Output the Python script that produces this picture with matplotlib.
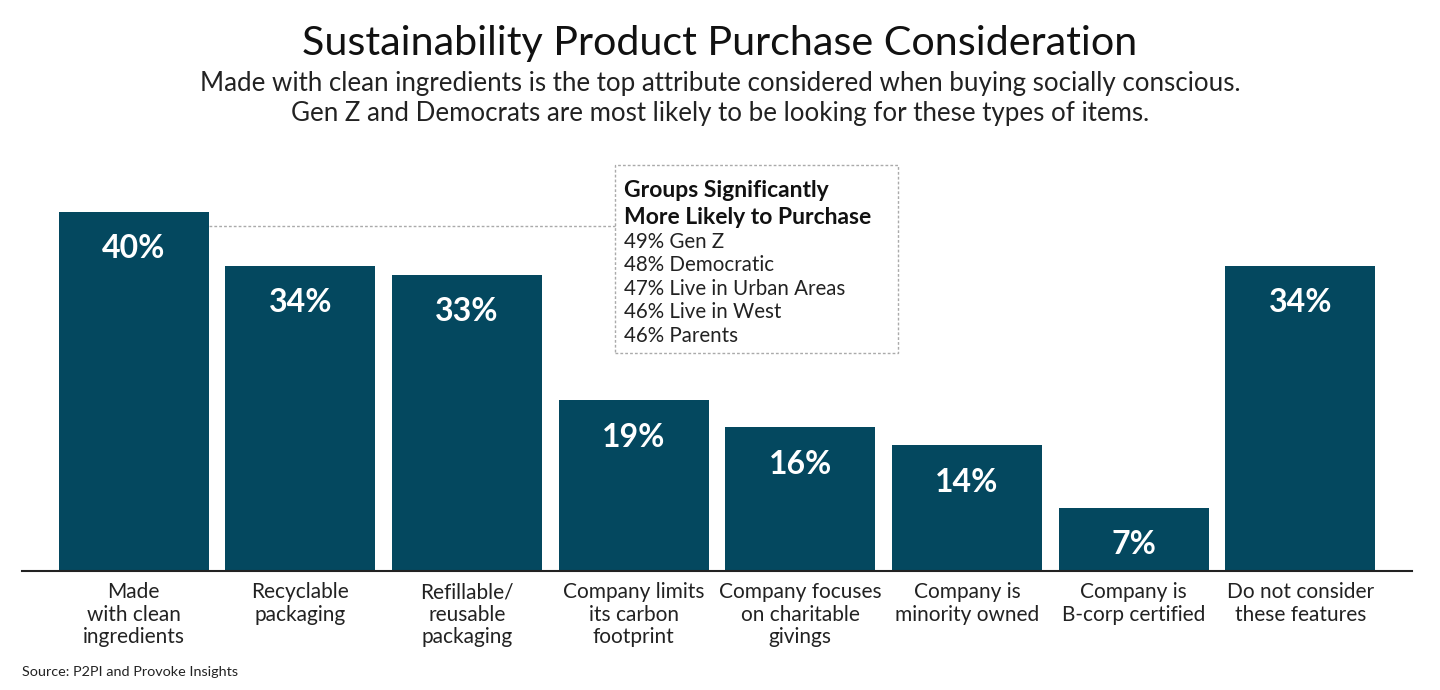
import matplotlib
matplotlib.use("Agg")
import matplotlib.pyplot as plt
from matplotlib.patches import Rectangle

plt.rcParams['font.family'] = ['Lato', 'DejaVu Sans']

categories = ["Made\nwith clean\ningredients", "Recyclable\npackaging", "Refillable/\nreusable\npackaging",
              "Company limits\nits carbon\nfootprint", "Company focuses\non charitable\ngivings",
              "Company is\nminority owned", "Company is\nB-corp certified", "Do not consider\nthese features"]
values = [40, 34, 33, 19, 16, 14, 7, 34]
value_labels = ["40%", "34%", "33%", "19%", "16%", "14%", "7%", "34%"]
box_title = ["Groups Significantly", "More Likely to Purchase"]
box_lines = ["49% Gen Z", "48% Democratic", "47% Live in Urban Areas", "46% Live in West", "46% Parents"]

bar_color = "#04485F"

fig = plt.figure(figsize=(14.4, 6.9), dpi=100)
ax = fig.add_axes([22/1440, 119/690, 1390/1440, 448.75/690])
x = list(range(len(values)))
bars = ax.bar(x, values, width=0.9, color=bar_color, zorder=2)
ax.set_xlim(-0.67, 7.67)
ax.set_ylim(0, 50)
for s in ["top", "right", "left"]:
    ax.spines[s].set_visible(False)
ax.spines["bottom"].set_color("#222222")
ax.spines["bottom"].set_linewidth(1.5)
ax.set_yticks([])
ax.set_xticks(x)
ax.set_xticklabels(categories, fontsize=15, color="#222222", linespacing=1.16)
ax.tick_params(axis='x', length=0, pad=8)

for xi, v, lab in zip(x, values, value_labels):
    ax.annotate(lab, (xi, v), xytext=(0, -26.5), textcoords="offset points",
                ha="center", va="center", color="white", fontsize=23, fontweight="bold")

# connector and annotation box
ax.plot([0.45, 2.889], [38.4, 38.4], ls=(0, (2, 1.5)), color="#aaaaaa", lw=1, clip_on=False, zorder=1)
ax.add_patch(Rectangle((2.889, 24.3), 4.587 - 2.889, 45.2 - 24.3, fill=False,
                       ls=(0, (2, 1.5)), ec="#aaaaaa", lw=1, clip_on=False))
ty = [42.45, 39.44]
for t, yy in zip(box_title, ty):
    ax.text(2.943, yy, t, fontsize=16.5, fontweight="bold", color="#111111", va="center", ha="left")
ly = [36.66, 34.1, 31.4, 28.86, 26.2]
for t, yy in zip(box_lines, ly):
    ax.text(2.943, yy, t, fontsize=14.8, color="#222222", va="center", ha="left")

fig.text(0.5, 1 - 44/690, "Sustainability Product Purchase Consideration", ha="center", va="center",
         fontsize=29.7, color="#111111")
fig.text(0.5, 1 - 99/690, "Made with clean ingredients is the top attribute considered when buying socially conscious.\n"
         "Gen Z and Democrats are most likely to be looking for these types of items.",
         ha="center", va="center", fontsize=18.6, color="#222222", linespacing=1.25)
fig.text(22/1440, 1 - 672/690, "Source: P2PI and Provoke Insights", ha="left", va="center",
         fontsize=10.4, color="#222222")

fig.savefig("out.png", dpi=100)
